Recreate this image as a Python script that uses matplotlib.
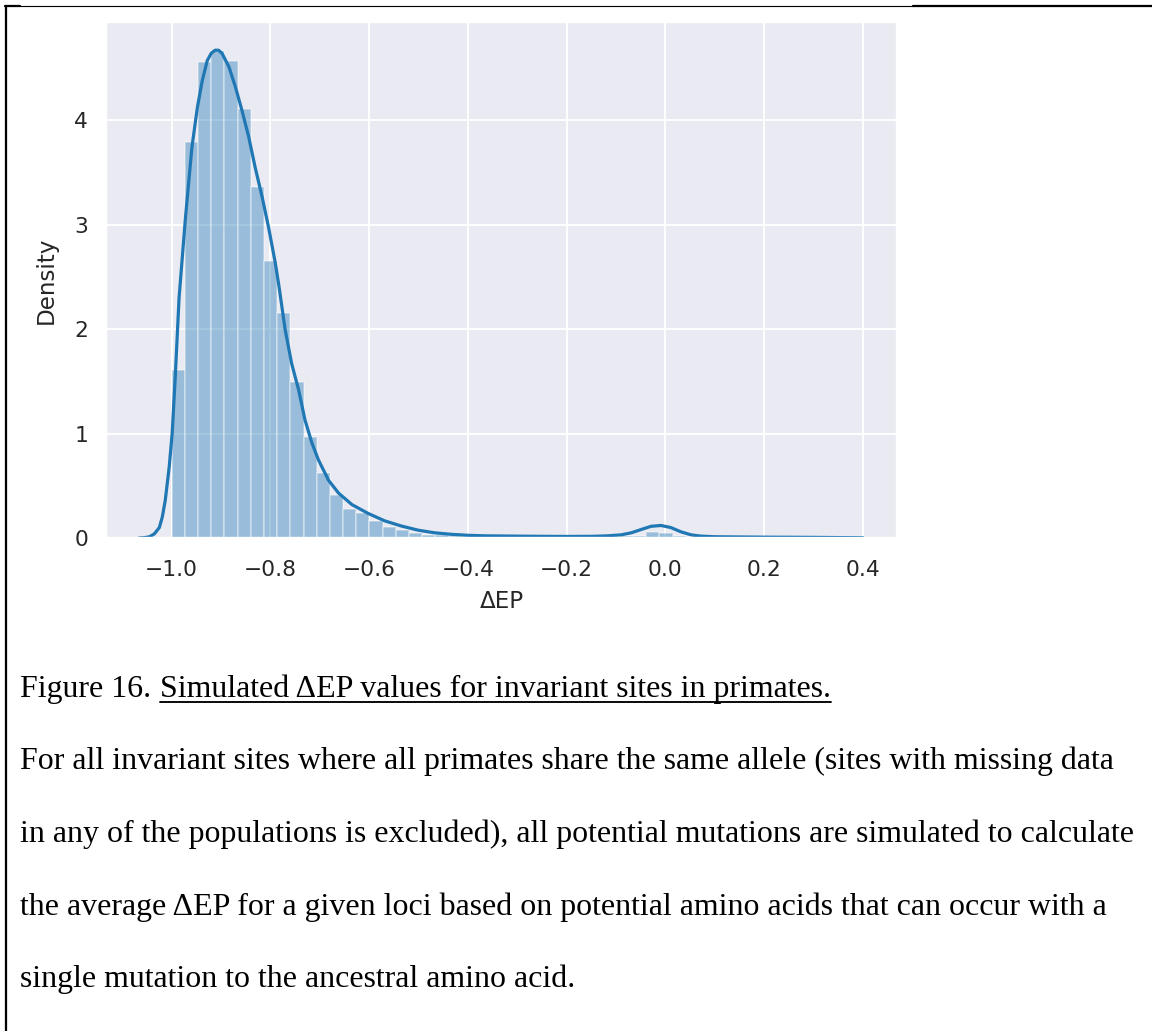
import numpy as np
import matplotlib
matplotlib.use("Agg")
import matplotlib.pyplot as plt
import seaborn as sns
from matplotlib.lines import Line2D

# histogram of simulated ΔEP (density), 50 equal bins starting at -1.0
bin_start = -1.0
bin_width = 0.0267
hist_density = [1.61, 3.79, 4.56, 4.66, 4.57, 4.11, 3.36, 2.65, 2.15, 1.49,
                0.97, 0.62, 0.41, 0.28, 0.24, 0.16, 0.11, 0.08, 0.05, 0.03,
                0.03, 0.022, 0.02, 0.018, 0.017, 0.016, 0.015, 0.014, 0.014, 0.013,
                0.013, 0.012, 0.012, 0.013, 0.015, 0.02, 0.06, 0.05, 0.015, 0.01,
                0.008, 0.007, 0.006, 0.006, 0.005, 0.005, 0.004, 0.004, 0.003, 0.003]

# kernel density estimate
kde_x = [-1.066, -1.055, -1.045, -1.035, -1.025, -1.019, -1.013, -1.005, -0.999, -0.993,
         -0.985, -0.972, -0.959, -0.948, -0.938, -0.928, -0.920, -0.912, -0.905, -0.898,
         -0.884, -0.871, -0.858, -0.844, -0.831, -0.817, -0.804, -0.790, -0.783, -0.770,
         -0.757, -0.743, -0.730, -0.716, -0.703, -0.682, -0.662, -0.635, -0.602, -0.569,
         -0.535, -0.501, -0.468, -0.433, -0.400, -0.367, -0.300, -0.250, -0.200, -0.150,
         -0.120, -0.090, -0.069, -0.050, -0.029, -0.009, 0.011, 0.031, 0.052, 0.072,
         0.100, 0.150, 0.200, 0.250, 0.300, 0.350, 0.400]
kde_y = [0.0, 0.003, 0.012, 0.04, 0.10, 0.20, 0.36, 0.68, 1.00, 1.52,
         2.30, 3.07, 3.74, 4.12, 4.38, 4.57, 4.64, 4.67, 4.67, 4.64,
         4.51, 4.32, 4.10, 3.84, 3.55, 3.27, 2.98, 2.63, 2.42, 1.99,
         1.67, 1.42, 1.13, 0.91, 0.75, 0.55, 0.43, 0.32, 0.235, 0.165,
         0.115, 0.075, 0.05, 0.035, 0.026, 0.021, 0.018, 0.016, 0.015, 0.016,
         0.02, 0.03, 0.05, 0.08, 0.112, 0.12, 0.10, 0.06, 0.03, 0.018,
         0.012, 0.01, 0.008, 0.007, 0.006, 0.004, 0.002]

x_ticks = [-1.0, -0.8, -0.6, -0.4, -0.2, 0.0, 0.2, 0.4]
y_ticks = [0, 1, 2, 3, 4]

caption_head = "Figure 16. "
caption_title = "Simulated \u0394EP values for invariant sites in primates."
caption_body = [
    "For all invariant sites where all primates share the same allele (sites with missing data",
    "in any of the populations is excluded), all potential mutations are simulated to calculate",
    "the average \u0394EP for a given loci based on potential amino acids that can occur with a",
    "single mutation to the ancestral amino acid.",
]

W, H, DPI = 1152, 1031, 135
sns.set_style("darkgrid")
sns.set_context("notebook", rc={"xtick.labelsize": 11.6, "ytick.labelsize": 11.6,
                                "axes.labelsize": 12.3})

fig = plt.figure(figsize=(W / DPI, H / DPI), dpi=DPI)
fig.patch.set_facecolor("white")

ax = fig.add_axes([106 / W, 1 - 538 / H, 791 / W, 516 / H])
edges = bin_start + bin_width * np.arange(len(hist_density))
ax.bar(edges, hist_density, width=bin_width, align="edge", color="#1f77b4",
       alpha=0.4, edgecolor="white", linewidth=0.8)
ax.plot(kde_x, kde_y, color="#1f77b4", lw=1.7, solid_capstyle="round",
        solid_joinstyle="round")
ax.set_xlim(-1.133, 0.469)
ax.set_ylim(0, 4.94)
ax.set_xticks(x_ticks)
ax.set_yticks(y_ticks)
ax.tick_params(axis="x", pad=5.5)
ax.tick_params(axis="y", pad=3.5)
ax.set_xlabel("\u0394EP", labelpad=5.5)
ax.set_ylabel("Density", labelpad=9)

# caption below the plot
serif = "Liberation Serif"
fs = 17
x0 = 20.5 / W
baselines = [697, 769.5, 842, 914.5, 987]
t1 = fig.text(x0, 1 - baselines[0] / H, caption_head, family=serif, fontsize=fs,
              va="baseline", ha="left", color="black")
fig.canvas.draw()
r = fig.canvas.get_renderer()
bb1 = t1.get_window_extent(r)
t2 = fig.text(bb1.x1 / W, 1 - baselines[0] / H, caption_title, family=serif,
              fontsize=fs, va="baseline", ha="left", color="black")
bb2 = t2.get_window_extent(r)
uy = 1 - 702 / H
fig.add_artist(Line2D([bb2.x0 / W, bb2.x1 / W], [uy, uy], transform=fig.transFigure,
                      color="black", lw=1.0))
for line, b in zip(caption_body, baselines[1:]):
    fig.text(x0, 1 - b / H, line, family=serif, fontsize=fs, va="baseline",
             ha="left", color="black")

# frame lines around the figure block
ty = 1 - 5.5 / H
lx = 6 / W
fig.add_artist(Line2D([5 / W, 20 / W], [ty, ty], transform=fig.transFigure, color="black", lw=1.2))
fig.add_artist(Line2D([20 / W, 913 / W], [ty, ty], transform=fig.transFigure, color="black", lw=0.6))
fig.add_artist(Line2D([913 / W, 1.0], [ty, ty], transform=fig.transFigure, color="black", lw=1.2))
fig.add_artist(Line2D([lx, lx], [0, ty], transform=fig.transFigure, color="black", lw=1.2))

fig.savefig("out.png", dpi=DPI, facecolor="white")
